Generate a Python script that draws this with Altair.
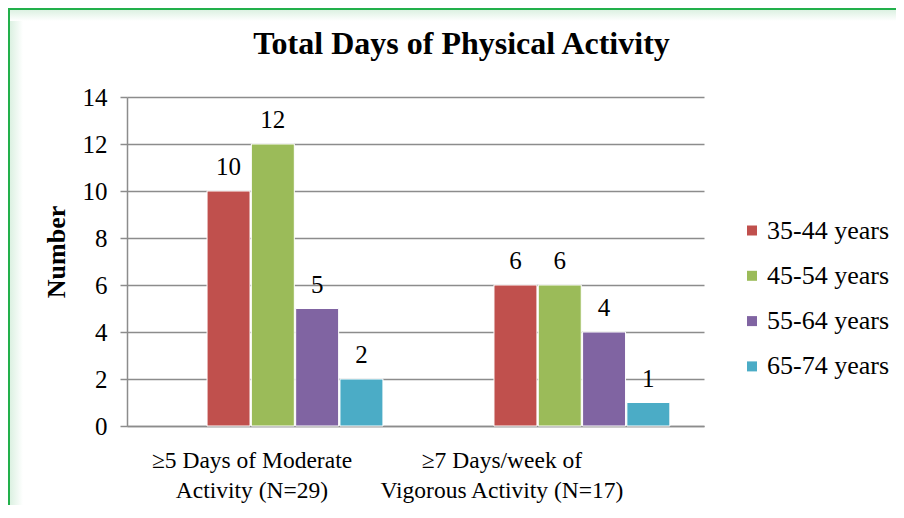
import altair as alt
import pandas as pd

# ---- data ----
categories = ["≥5 Days of Moderate|Activity (N=29)", "≥7 Days/week of|Vigorous Activity (N=17)"]
age_groups = ["35-44 years", "45-54 years", "55-64 years", "65-74 years"]
moderate = [10, 12, 5, 2]
vigorous = [6, 6, 4, 1]
colors = ["#C0504D", "#9BBB59", "#8064A2", "#4BACC6"]
y_ticks = [0, 2, 4, 6, 8, 10, 12, 14]
chart_title = "Total Days of Physical Activity"
y_title = "Number"

rows = []
for cat, vals in zip(categories, [moderate, vigorous]):
    for g, v in zip(age_groups, vals):
        rows.append({"category": cat, "age": g, "value": v})
df = pd.DataFrame(rows)

W, H = 577, 329
PAD_L, PAD_T = 119, 89
FONT = "Liberation Serif"
GRID = "#8c8c8c"
GREEN = "#22b04b"

x_enc = alt.X(
    "category:N", sort=categories,
    scale=alt.Scale(paddingInner=0.387, paddingOuter=0.199, align=0.701),
    axis=alt.Axis(
        title=None, labelAngle=0, labelExpr="split(datum.label, '|')",
        labelFont=FONT, labelFontSize=23.5, labelColor="black", labelLineHeight=30,
        labelPadding=22, labelLimit=600, ticks=False, tickSize=0,
        domainColor=GRID, domainWidth=1.5, grid=False,
        labelOffset={"condition": {"test": "indexof(datum.value, '≥5') === 0", "value": -43}, "value": -80},
    ),
)
xo_enc = alt.XOffset("age:N", sort=age_groups, scale=alt.Scale(paddingInner=0.03, paddingOuter=0))
y_enc = alt.Y(
    "value:Q", scale=alt.Scale(domain=[0, 14]),
    axis=alt.Axis(
        title=None, values=y_ticks, grid=True, gridColor=GRID, gridWidth=1.5,
        domainColor=GRID, domainWidth=1.5, tickColor=GRID, tickWidth=1.5, tickSize=7,
        labelFont=FONT, labelFontSize=25, labelColor="black", labelPadding=13,
    ),
)

bars = alt.Chart(df).mark_bar(stroke="white", strokeWidth=1).encode(
    x=x_enc, xOffset=xo_enc, y=y_enc,
    color=alt.Color(
        "age:N", sort=age_groups, scale=alt.Scale(domain=age_groups, range=colors),
        legend=alt.Legend(
            title=None, orient="none", legendX=612, legendY=120.5, symbolType="square",
            symbolSize=100, symbolStrokeWidth=0, labelFont=FONT, labelFontSize=26,
            labelColor="black", rowPadding=19.3, labelOffset=2, padding=0, labelLimit=300,
        ),
    ),
)

labels = alt.Chart(df).mark_text(
    font=FONT, fontSize=25, dy=-16, baseline="alphabetic", color="black"
).encode(
    x=alt.X("category:N", sort=categories),
    xOffset=alt.XOffset("age:N", sort=age_groups),
    y="value:Q", text="value:Q",
)

one = alt.Data(values=[{"t": chart_title, "n": y_title}])

title = alt.Chart(one).mark_text(
    font=FONT, fontSize=32, fontWeight="bold", align="center", baseline="alphabetic", color="black"
).encode(x=alt.value(334.5), y=alt.value(-43), text="t:N")

ytitle = alt.Chart(one).mark_text(
    font=FONT, fontSize=26, fontWeight="bold", align="center", baseline="middle",
    angle=270, color="black"
).encode(x=alt.value(-70), y=alt.value(155), text="n:N")

grad_h = alt.LinearGradient(gradient="linear", x1=0, x2=1, y1=0, y2=0,
                            stops=[alt.GradientStop(offset=0, color="#dcf1e2"), alt.GradientStop(offset=1, color="#ffffff")])
grad_v = alt.LinearGradient(gradient="linear", x1=0, x2=0, y1=0, y2=1,
                            stops=[alt.GradientStop(offset=0, color="#dcf1e2"), alt.GradientStop(offset=1, color="#ffffff")])

glow_left = alt.Chart(one).mark_rect(color=grad_h).encode(
    x=alt.value(-PAD_L + 2), x2=alt.value(-PAD_L + 15), y=alt.value(-PAD_T + 2), y2=alt.value(430))
glow_top = alt.Chart(one).mark_rect(color=grad_v).encode(
    x=alt.value(-PAD_L + 2), x2=alt.value(800), y=alt.value(-PAD_T + 2), y2=alt.value(-PAD_T + 13))

border_left = alt.Chart(one).mark_rule(color=GREEN, strokeWidth=2).encode(
    x=alt.value(-PAD_L + 1), y=alt.value(-PAD_T), y2=alt.value(430))
border_top = alt.Chart(one).mark_rule(color=GREEN, strokeWidth=2).encode(
    x=alt.value(-PAD_L), x2=alt.value(800), y=alt.value(-PAD_T + 1))

chart = alt.layer(
    glow_left, glow_top, bars, labels, title, ytitle, border_left, border_top
).properties(
    width=W, height=H,
    autosize=alt.AutoSizeParams(type="none"),
    padding={"left": PAD_L, "top": PAD_T, "right": 888 - W - PAD_L, "bottom": 497 - H - PAD_T},
    background="white",
).configure_view(stroke=None)

chart.save("out.html", embed_options={"renderer": "svg", "actions": False})
